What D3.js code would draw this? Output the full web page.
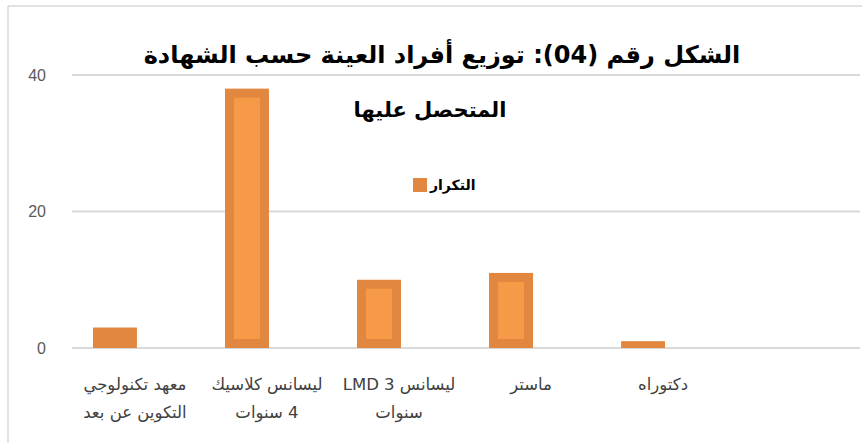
<!DOCTYPE html>
<html lang="ar">
<head>
<meta charset="UTF-8">
<title>الشكل رقم (04)</title>
<script src="https://d3js.org/d3.v7.min.js"></script>
<style>
    body { margin: 0; background: #fff; }
    text { font-family: "DejaVu Sans", "Liberation Sans", sans-serif; }
    .tick text { fill: #595959; font-size: 16px; font-family: "Liberation Sans", sans-serif; }
    .cat { fill: #404040; font-size: 16.5px; }
    .title { font-weight: bold; font-size: 24px; fill: #000; }
</style>
</head>
<body>
<svg width="862" height="443"></svg>
<script>
    // data
    var categories = ["معهد تكنولوجي|التكوين عن بعد", "ليسانس كلاسيك|4 سنوات", "ليسانس LMD 3|سنوات", "ماستر", "دكتوراه"];
    var values = [3, 38, 10, 11, 1];
    var yTicks = [0, 20, 40];
    var seriesName = "التكرار";
    var titleLines = ["الشكل رقم (04): توزيع أفراد العينة حسب الشهادة", "المتحصل عليها"];

    var svg = d3.select("svg");

    // frame
    svg.append("line").attr("x1", 8).attr("x2", 8).attr("y1", 6).attr("y2", 443)
        .attr("stroke", "#d9d9d9").attr("stroke-width", 1.5);
    svg.append("line").attr("x1", 8).attr("x2", 862).attr("y1", 6).attr("y2", 6)
        .attr("stroke", "#d9d9d9").attr("stroke-width", 1.5);

    var x = d3.scaleBand()
        .domain(categories)
        .range([49, 709])
        .paddingInner(0.667)
        .paddingOuter(0.333);

    var y = d3.scaleLinear().domain([0, 40]).range([348, 75]);

    // grid
    svg.append("g").selectAll("line")
        .data(yTicks)
        .enter().append("line")
        .attr("x1", 72).attr("x2", 860)
        .attr("y1", function(d) { return y(d); })
        .attr("y2", function(d) { return y(d); })
        .attr("stroke", "#d9d9d9")
        .attr("stroke-width", 2);

    // y labels
    var yAxis = svg.append("g")
        .attr("transform", "translate(46,0)")
        .call(d3.axisLeft(y).tickValues(yTicks).tickSize(0).tickPadding(0));
    yAxis.select(".domain").remove();

    // bars (dark border + lighter inside)
    var inset = 9;
    var bars = svg.append("g").selectAll("g")
        .data(values)
        .enter().append("g");

    bars.append("rect")
        .attr("x", function(d, i) { return x(categories[i]); })
        .attr("y", function(d) { return y(d); })
        .attr("width", x.bandwidth())
        .attr("height", function(d) { return y(0) - y(d); })
        .attr("fill", "#e2873f");

    bars.filter(function(d) { return y(0) - y(d) > 30; })
        .append("rect")
        .attr("x", function(d) { return x(categories[values.indexOf(d)]) + inset; })
        .attr("y", function(d) { return y(d) + inset; })
        .attr("width", x.bandwidth() - 2 * inset)
        .attr("height", function(d) { return y(0) - y(d) - 2 * inset; })
        .attr("fill", "#f79a48");

    // category labels
    var cat = svg.append("g").selectAll("text")
        .data(categories)
        .enter().append("text")
        .attr("class", "cat")
        .attr("text-anchor", "middle")
        .attr("direction", "rtl")
        .attr("x", function(d) { return x(d) + x.bandwidth() / 2 + 20; })
        .attr("y", 390);
    cat.each(function(d) {
        var parts = d.split("|");
        var t = d3.select(this);
        parts.forEach(function(p, k) {
            t.append("tspan")
                .attr("x", t.attr("x"))
                .attr("dy", k === 0 ? 0 : 28)
                .text(p);
        });
    });

    // title
    svg.append("text").attr("class", "title")
        .attr("text-anchor", "middle").attr("direction", "rtl")
        .attr("x", 442).attr("y", 63)
        .text(titleLines[0]);
    svg.append("text").attr("class", "title")
        .attr("text-anchor", "middle").attr("direction", "rtl")
        .attr("x", 430).attr("y", 117)
        .style("font-size", "21px")
        .text(titleLines[1]);

    // legend
    svg.append("rect").attr("x", 413).attr("y", 178).attr("width", 14).attr("height", 14)
        .attr("fill", "#e2873f");
    svg.append("text").attr("x", 430).attr("y", 190)
        .attr("text-anchor", "end").attr("direction", "rtl")
        .style("font-size", "14px").style("font-weight", "bold")
        .text(seriesName);
</script>
</body>
</html>
